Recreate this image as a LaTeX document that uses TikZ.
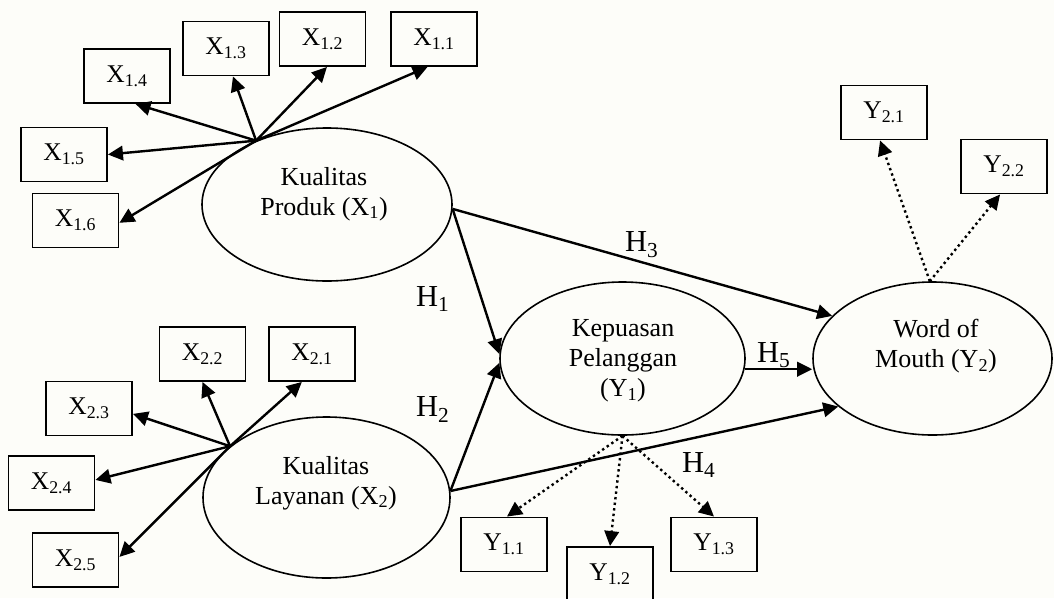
\documentclass[tikz,border=0pt]{standalone}
\usepackage{fontspec}
\setmainfont{Liberation Serif}
\usetikzlibrary{arrows.meta,shapes.geometric}
\definecolor{paper}{RGB}{253,253,249}

\begin{document}
\begin{tikzpicture}[x=1pt,y=-1pt,
  latent/.style={ellipse, draw, line width=1.6pt, inner sep=0pt},
  indicator/.style={rectangle, draw, line width=1.9pt, minimum width=86pt,
    minimum height=54pt, inner sep=0pt, font=\fontsize{25.5}{29}\selectfont},
  vartext/.style={align=center, inner sep=0pt, font=\fontsize{26}{30}\selectfont},
  hyp/.style={anchor=base west, inner sep=0pt, font=\fontsize{30.5}{34}\selectfont},
  tip/.style={-{Triangle[length=15pt,width=14.5pt]}},
  link/.style={line width=2.4pt, tip},
  loading/.style={line width=2.4pt, tip},
  dotload/.style={line width=2.4pt, dash pattern=on 2.4pt off 3.2pt, tip},
]
\fill[paper] (0,0) rectangle (1054,598);
\useasboundingbox (0,0) rectangle (1054,598);

% latent variables
\node[latent, minimum width=250pt, minimum height=153pt] (kp)  at (327,204.5) {};
\node[latent, minimum width=247pt, minimum height=161pt] (kl)  at (326.5,497.5) {};
\node[latent, minimum width=245pt, minimum height=153pt] (kep) at (622.5,358.5) {};
\node[latent, minimum width=239pt, minimum height=153pt] (wom) at (932.5,358.5) {};

\node[vartext] (kpt)  at (324,194)   {Kualitas\\Produk (X\textsubscript{1})};
\node[vartext] (klt)  at (326,483)   {Kualitas\\Layanan (X\textsubscript{2})};
\node[vartext] (kept) at (623,361)   {Kepuasan\\Pelanggan\\(Y\textsubscript{1})};
\node[vartext] (womt) at (936,346)   {Word of\\Mouth (Y\textsubscript{2})};

% indicators of Kualitas Produk
\node[indicator] (x11) at (434,39)    {X\textsubscript{1.1}};
\node[indicator] (x12) at (322.5,39)  {X\textsubscript{1.2}};
\node[indicator] (x13) at (226,48.5)  {X\textsubscript{1.3}};
\node[indicator] (x14) at (127,76)    {X\textsubscript{1.4}};
\node[indicator] (x15) at (64,154.5)  {X\textsubscript{1.5}};
\node[indicator] (x16) at (75.5,220.5){X\textsubscript{1.6}};

% indicators of Kualitas Layanan
\node[indicator] (x21) at (312,354)   {X\textsubscript{2.1}};
\node[indicator] (x22) at (202.5,354) {X\textsubscript{2.2}};
\node[indicator] (x23) at (89,408.5)  {X\textsubscript{2.3}};
\node[indicator] (x24) at (51.5,483)  {X\textsubscript{2.4}};
\node[indicator] (x25) at (75.5,560)  {X\textsubscript{2.5}};

% indicators of Kepuasan Pelanggan
\node[indicator] (y11) at (504,544.5) {Y\textsubscript{1.1}};
\node[indicator] (y12) at (610,574)   {Y\textsubscript{1.2}};
\node[indicator] (y13) at (714,544.5) {Y\textsubscript{1.3}};

% indicators of Word of Mouth
\node[indicator] (y21) at (884,112.5)  {Y\textsubscript{2.1}};
\node[indicator] (y22) at (1004,166.5) {Y\textsubscript{2.2}};

% loadings
\coordinate (hx1) at (kp.138);
\draw[loading] (hx1) -- (x11.-103);
\draw[loading] (hx1) -- (x12.-81);
\draw[loading] (hx1) -- (x13.-76);
\draw[loading] (hx1) -- (x14.-73);
\draw[loading] (hx1) -- (x15.east);
\draw[loading] (hx1) -- (x16.-3);

\coordinate (hx2) at (kl.152);
\draw[loading] (hx2) -- (x21.-110);
\draw[loading] (hx2) -- (x22.-90);
\draw[loading] (hx2) -- (x23.-7);
\draw[loading] (hx2) -- (x24.4);
\draw[loading] (hx2) -- (x25.4);

\coordinate (hy1) at (kep.south);
\draw[dotload] (hy1) -- (y11.84);
\draw[dotload] (hy1) -- (y12.north);
\draw[dotload] (hy1) -- (y13.north);

\coordinate (hy2) at (wom.92);
\draw[dotload] (hy2) -- (y21.-98);
\draw[dotload] (hy2) -- (y22.-98);

% structural paths
\coordinate (okp) at (kp.-2);
\coordinate (okl) at (kl.3);
\draw[link] (okp) -- (kep.178);
\draw[link] (okl) -- (kep.-178);
\draw[link] (okp) -- (wom.157);
\draw[link] (okl) -- (wom.-153);
\draw[link] (kep.-5) -- (kep.-5 -| wom.west);

\node[hyp] (h1) at (416,306)   {H\textsubscript{1}};
\node[hyp] (h2) at (416,416.7) {H\textsubscript{2}};
\node[hyp] (h3) at (625,251.7) {H\textsubscript{3}};
\node[hyp] (h4) at (682,472)   {H\textsubscript{4}};
\node[hyp] (h5) at (757,362)   {H\textsubscript{5}};
\end{tikzpicture}
\end{document}
